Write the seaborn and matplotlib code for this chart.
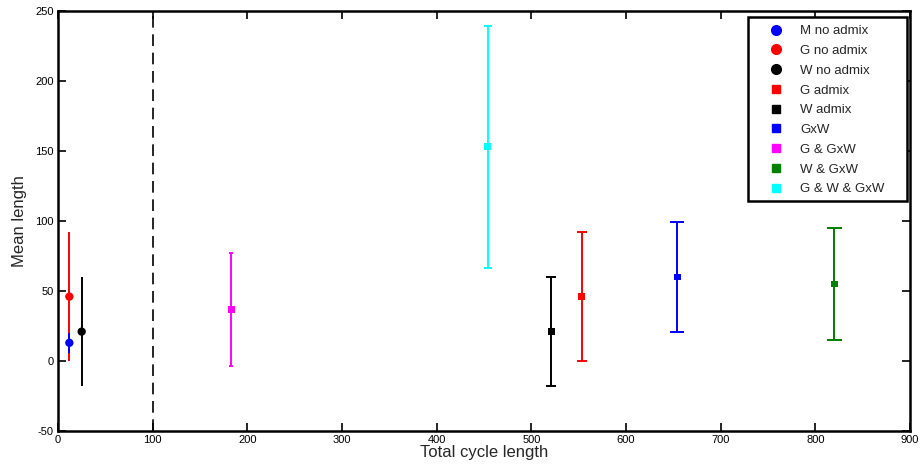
import matplotlib
matplotlib.use("Agg")
import matplotlib.pyplot as plt
import seaborn as sns
import pandas as pd
from matplotlib.lines import Line2D
from matplotlib.patches import Rectangle

labels = ["M no admix", "G no admix", "W no admix", "G admix", "W admix",
          "GxW", "G & GxW", "W & GxW", "G & W & GxW"]
x_vals = [12, 12, 25, 553, 521, 654, 183, 820, 454]
means = [13, 46, 21, 46, 21, 60, 37, 55, 153]
errors = [7, 46, 39, 46, 39, 39, 40.5, 40, 86.5]
colors = ["#0000ff", "#ff0000", "#000000", "#ff0000", "#000000",
          "#0000ff", "#ff00ff", "#008000", "#00ffff"]
markers = ["o", "o", "o", "s", "s", "s", "s", "s", "s"]
caps = [0, 0, 0, 3.6, 3.6, 4.7, 1.5, 5.4, 2.9]
x_ticks = [0, 100, 200, 300, 400, 500, 600, 700, 800, 900]
y_ticks = [-50, 0, 50, 100, 150, 200, 250]

df = pd.DataFrame({"label": labels, "x": x_vals, "mean": means,
                   "err": errors, "color": colors, "marker": markers,
                   "cap": caps})

sns.set_style("ticks")
plt.rcParams["font.family"] = ["Liberation Sans", "DejaVu Sans"]
plt.rcParams["axes.unicode_minus"] = False

W, H = 922, 470
fig = plt.figure(figsize=(W / 100, H / 100), dpi=100)
ax = fig.add_axes([58 / W, 1 - 431 / H, (910 - 58) / W, (431 - 11) / H])

ax.axvline(100, color="black", lw=1.2, ls=(0, (7, 4)), zorder=1)

order = [1, 0, 2, 3, 4, 5, 6, 7, 8]
for i in order:
    r = df.iloc[i]
    ax.errorbar(r["x"], r["mean"], yerr=r["err"], fmt="none",
                ecolor=r["color"], elinewidth=1.4, capsize=r["cap"],
                capthick=1.4, zorder=2)

palette = dict(zip(labels, colors))
circ = df[df["marker"] == "o"]
sq = df[df["marker"] == "s"]
sns.scatterplot(data=circ, x="x", y="mean", hue="label", palette=palette,
                marker="o", s=36, linewidth=0, ax=ax, legend=False, zorder=3)
sns.scatterplot(data=sq, x="x", y="mean", hue="label", palette=palette,
                marker="s", s=24, linewidth=0, ax=ax, legend=False, zorder=3)

ax.set_xlim(0, 900)
ax.set_ylim(-50, 250)
ax.set_xticks(x_ticks)
ax.set_yticks(y_ticks)
ax.tick_params(direction="in", length=6, width=1.2, labelsize=8,
               top=True, right=True, colors="black", pad=3)
for s in ax.spines.values():
    s.set_visible(True)
    s.set_linewidth(1.8)
    s.set_color("black")
ax.set_xlabel("Total cycle length", fontsize=12, labelpad=0)
ax.set_ylabel("Mean length", fontsize=12, labelpad=6)

# legend frame (pixel coords)
lx0, ly0, lx1, ly1 = 748, 17, 907, 201
rect = Rectangle((lx0 / W, 1 - ly1 / H), (lx1 - lx0) / W, (ly1 - ly0) / H,
                 transform=fig.transFigure, facecolor="white",
                 edgecolor="black", linewidth=1.8, zorder=5)
fig.patches.append(rect)

handles = []
for lab, c, m in zip(labels, colors, markers):
    handles.append(Line2D([], [], ls="none", marker=m, color=c,
                          markersize=7 if m == "o" else 5.5))
fs = 9.5
fpx = fs * 100 / 72
leg = fig.legend(handles, labels, loc="upper left",
                 bbox_to_anchor=((776 - fpx / 2) / W, 1 - 25 / H),
                 fontsize=fs, frameon=False, borderpad=0,
                 labelspacing=0.57, handletextpad=(800 - 776 - fpx / 2) / fpx,
                 handlelength=1.0, borderaxespad=0)
leg.set_zorder(6)

fig.savefig("out.png", dpi=100)
